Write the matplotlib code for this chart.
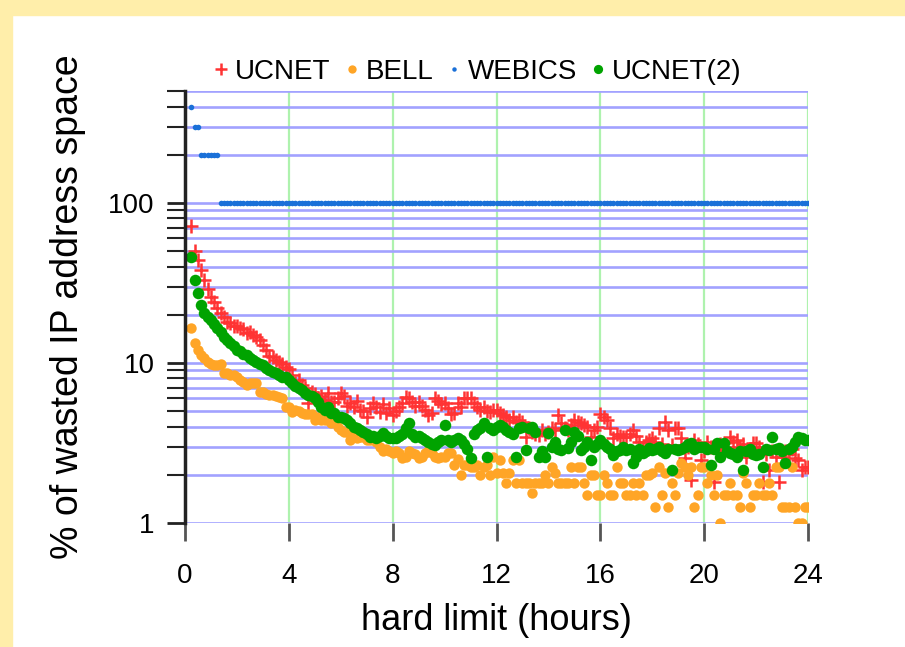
import numpy as np
import matplotlib
matplotlib.use('Agg')
import matplotlib.pyplot as plt
from matplotlib import ticker
from matplotlib.patches import Rectangle

plt.rcParams['font.family'] = ['Liberation Sans', 'DejaVu Sans']

# sample times: every 7.5 minutes from 0.25 h up to 24 h
hours = np.arange(0.25, 24.0001, 0.125)

# % wasted, one row per hour
ucnet = [
    72, 50, 44, 38, 33, 29,
    26, 24, 22, 20.5, 19.5, 18, 17.7, 17,
    16.9, 16.5, 16.2, 15.3, 15.5, 15, 14.6, 14,
    13, 12, 11, 10.9, 10.5, 10.2, 9.8, 9.5,
    9.2, 8.4, 7.5, 7.8, 7.3, 7.0, 5.6, 6.6,
    6.4, 6.0, 6.2, 5.9, 6.45, 5.7, 5.7, 6.0,
    6.45, 6.2, 5.4, 5.6, 5.3, 5.8, 5.1, 5.0,
    4.6, 5.2, 5.6, 5.3, 4.96, 5.5, 4.9, 5.2,
    4.7, 5.0, 5.3, 5.6, 6.15, 6.0, 5.7, 5.4,
    5.7, 5.4, 5.1, 4.7, 4.9, 6.0, 5.8, 5.5,
    5.6, 5.2, 4.8, 4.9, 5.6, 5.3, 6.0, 6.0,
    6.0, 5.6, 5.3, 5.1, 5.3, 5.0, 4.96, 5.1,
    5.1, 4.9, 4.7, 4.6, 4.4, 4.6, 4.3, 4.4,
    4.3, 3.46, 3.9, 3.7, 3.6, 3.55, 3.8, 3.6,
    3.7, 3.9, 3.8, 4.7, 4.2, 3.9, 3.8, 4.1,
    4.4, 4.3, 4.2, 4.1, 4.0, 3.46, 3.8, 4.0,
    4.8, 4.6, 4.4, 3.9, 3.38, 3.6, 3.5, 3.46,
    3.46, 3.6, 3.8, 3.5, 3.2, 2.93, 3.22, 3.3,
    3.38, 3.2, 3.9, 3.1, 4.3, 3.8, 3.07, 3.9,
    3.9, 3.4, 2.54, 3.0, 1.86, 3.3, 3.1, 2.47,
    2.8, 3.22, 3.0, 1.81, 2.9, 3.1, 2.8, 3.0,
    3.46, 3.2, 3.3, 3.0, 3.1, 2.6, 2.9, 3.15,
    3.15, 3.0, 1.81, 2.7, 2.14, 2.8, 2.6, 1.81,
    2.6, 2.8, 2.7, 2.9, 2.54, 2.47, 2.14, 2.25,
    2.24,
]

bell = [
    16.5, 13.3, 12.1, 11.2, 10.7, 10.2,
    9.9, 9.7, 9.7, 9.9, 8.6, 8.6, 8.4, 8.4,
    8.2, 7.8, 7.6, 7.3, 7.5, 7.5, 7.5, 6.6,
    6.6, 6.4, 6.3, 6.3, 6.2, 6.15, 6.0, 5.3,
    5.3, 4.96, 5.1, 5.0, 4.9, 4.8, 4.8, 4.8,
    4.4, 4.6, 4.4, 4.4, 4.4, 4.2, 4.4, 4.0,
    3.8, 3.7, 3.7, 3.3, 3.5, 3.4, 3.46, 3.46,
    3.3, 3.3, 3.46, 3.2, 3.0, 2.8, 2.9, 2.8,
    2.73, 2.8, 2.73, 2.54, 2.6, 2.8, 2.73, 2.7,
    2.54, 2.6, 2.73, 2.8, 2.73, 2.6, 2.54, 2.6,
    2.6, 2.73, 2.73, 2.3, 2.5, 2.0, 2.3, 2.3,
    2.25, 2.25, 2.3, 2.0, 2.25, 2.3, 2.0, 2.6,
    2.04, 2.47, 2.04, 1.77, 2.04, 2.47, 1.77, 2.47,
    1.77, 1.77, 1.77, 1.53, 1.77, 1.77, 1.77, 2.0,
    1.77, 2.25, 2.04, 1.77, 1.77, 1.77, 1.77, 2.25,
    1.77, 2.25, 2.25, 1.77, 1.5, 2.0, 2.0, 1.5,
    1.5, 2.0, 1.77, 1.5, 1.5, 2.25, 1.77, 1.77,
    1.5, 1.5, 1.77, 1.5, 1.77, 1.5, 2.0, 2.0,
    2.04, 1.26, 2.25, 1.5, 2.04, 1.26, 1.77, 1.5,
    2.04, 2.36, 2.25, 2.0, 2.25, 1.26, 1.5, 2.25,
    2.25, 1.77, 2.0, 1.5, 2.0, 1.0, 1.5, 1.5,
    1.77, 1.5, 1.5, 1.26, 2.04, 1.77, 1.26, 1.5,
    1.5, 1.77, 1.5, 1.5, 1.77, 1.5, 2.25, 2.25,
    1.26, 1.26, 1.26, 2.25, 1.26, 1.0, 1.0, 1.26,
    1.26,
]

# WEBICS is a step series: (value, number of samples)
webics_runs = [(400, 1), (300, 2), (200, 6), (100, 182)]
webics = [v for v, n in webics_runs for _ in range(n)]

ucnet2 = [
    46, 33, 27.5, 23, 20.5, 19.5,
    18.6, 17.5, 16.5, 15.5, 14.6, 14, 13.3, 12.8,
    12.1, 11.8, 11.4, 11.2, 10.8, 10.4, 10.1, 9.9,
    9.7, 9.3, 9.0, 8.8, 8.6, 8.4, 8.2, 8.2,
    7.8, 7.5, 7.2, 7.0, 6.8, 6.5, 6.3, 6.2,
    6.0, 5.7, 5.33, 5.1, 5.3, 4.9, 4.84, 4.6,
    4.6, 4.5, 4.4, 4.2, 4.0, 3.9, 3.8, 3.7,
    3.6, 3.46, 3.5, 3.4, 3.5, 3.64, 3.5, 3.4,
    3.4, 3.38, 3.5, 3.6, 3.9, 4.2, 3.6, 3.46,
    3.5, 3.4, 3.3, 3.2, 3.1, 3.07, 3.2, 3.3,
    4.1, 3.3, 3.2, 3.3, 3.4, 3.3, 3.1, 2.9,
    2.54, 3.6, 3.8, 3.9, 4.2, 2.6, 3.9, 3.8,
    4.0, 4.1, 4.0, 3.8, 3.7, 3.6, 2.6, 3.9,
    4.0, 2.86, 3.9, 4.0, 3.7, 2.6, 2.8, 2.6,
    3.64, 3.0, 3.2, 2.9, 2.86, 3.8, 2.93, 3.2,
    3.7, 3.5, 2.86, 3.0, 3.22, 2.47, 3.0, 3.1,
    3.3, 3.1, 3.0, 2.9, 2.66, 2.8, 2.86, 3.0,
    2.86, 2.9, 2.36, 2.6, 2.9, 2.73, 2.8, 2.93,
    2.86, 2.9, 3.0, 2.8, 2.73, 2.9, 2.14, 2.9,
    2.86, 2.9, 3.0, 3.1, 3.15, 2.9, 3.0, 3.0,
    3.0, 2.9, 2.3, 2.9, 3.15, 2.6, 3.15, 2.8,
    2.73, 2.7, 2.6, 2.8, 2.14, 2.8, 2.9, 2.7,
    2.66, 2.7, 2.25, 2.9, 2.86, 3.46, 2.9, 2.93,
    2.8, 2.36, 2.9, 3.0, 3.2, 3.46, 3.4, 3.3,
    3.3,
]

x_ticks = [0, 4, 8, 12, 16, 20, 24]

fig = plt.figure(figsize=(9.05, 6.47), dpi=100)
# pale yellow frame along top and left edge
fig.patches.append(Rectangle((0, 1 - 15 / 647), 1, 15 / 647, transform=fig.transFigure,
                             color='#ffeeaa', zorder=-1))
fig.patches.append(Rectangle((0, 0), 12 / 905, 1, transform=fig.transFigure,
                             color='#ffeeaa', zorder=-1))

ax = fig.add_axes([185 / 905, 1 - 523 / 647, 623 / 905, 432 / 647])

ax.plot(hours, ucnet, '+', color='#ff3333', ms=10, mew=1.8, label='UCNET')
ax.plot(hours, bell, 'o', color='#ffa526', ms=7.5, mec='none', label='BELL')
ax.plot(hours, webics, 'o', color='#1a70d8', ms=4, mec='none', label='WEBICS')
ax.plot(hours, ucnet2, 'o', color='#00a300', ms=8.3, mec='none', label='UCNET(2)')

ax.set_yscale('log')
ax.set_ylim(1, 500)
ax.set_xlim(0, 24)
ax.set_xticks(x_ticks)
ax.yaxis.set_major_locator(ticker.LogLocator(base=10))
ax.yaxis.set_minor_locator(ticker.LogLocator(base=10, subs=range(2, 10)))
ax.yaxis.set_major_formatter(ticker.FuncFormatter(lambda v, p: f'{v:g}'))
ax.yaxis.set_minor_formatter(ticker.NullFormatter())

ax.set_axisbelow(True)
ax.yaxis.grid(True, which='both', color='#a2a2ff', lw=1.9)
ax.xaxis.grid(True, color='#aef2ae', lw=1.6)

for side in ['top', 'right', 'bottom']:
    ax.spines[side].set_visible(False)
ax.spines['left'].set_linewidth(2.5)
ax.spines['left'].set_color('#222222')

ax.tick_params(axis='y', which='major', length=13, width=2, color='#222222',
               labelsize=20, pad=9)
ax.tick_params(axis='y', which='minor', length=13, width=1.5, color='#222222')
ax.tick_params(axis='x', length=13, width=2, color='#555555', labelsize=20, pad=16)

ax.set_xlabel('hard limit (hours)', fontsize=26, labelpad=10)
ax.set_ylabel('% of wasted IP address space', fontsize=27, labelpad=16)

fig.legend(loc='center', bbox_to_anchor=(478 / 905, 1 - 72 / 647), ncol=4,
           frameon=False, fontsize=20, handlelength=0.5, handletextpad=0.25,
           columnspacing=0.5, markerscale=0.8, borderaxespad=0)

fig.savefig('out.png', dpi=100)
